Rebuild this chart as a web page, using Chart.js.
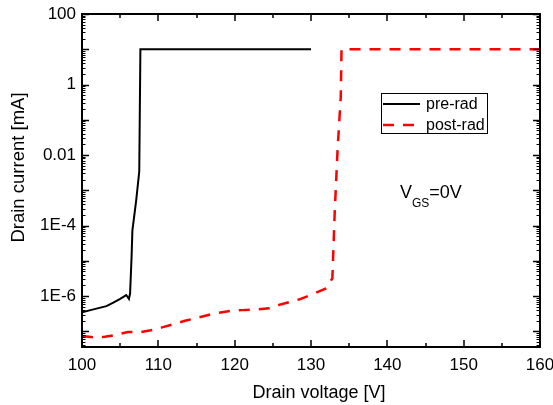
<!DOCTYPE html>
<html>
<head>
<meta charset="utf-8">
<script src="https://cdn.jsdelivr.net/npm/chart.js@4/dist/chart.umd.min.js"></script>
<style>
  html, body { margin: 0; padding: 0; background: #fff; }
  canvas { display: block; }
</style>
</head>
<body>
<canvas id="c" width="553" height="405"></canvas>
<script>
// ---- data (voltage in V, drain current in mA) ----
const seriesNames = ['pre-rad', 'post-rad'];
const voltagePre = [100, 101.5, 103.2, 104.1, 105, 105.8, 106.15, 106.3, 106.5, 106.6, 107.1, 107.5, 107.65, 130];
const currentPre = [3.5e-7, 4.2e-7, 5.2e-7, 6.5e-7, 8.3e-7, 1.07e-6, 8.3e-7, 1.2e-6, 1.4e-5, 7.2e-5, 5.2e-4, 3.4e-3, 10, 10];
const voltagePost = [100, 101.5, 103, 104.5, 106, 107.5, 109, 110.5, 112, 113.5, 115, 117, 119.5, 121, 123, 124.5, 126, 128.5, 130.5, 132, 132.8, 133.1, 133.5, 133.9, 134.0, 160];
const currentPost = [7.4e-8, 6.8e-8, 7.0e-8, 8.0e-8, 9.6e-8, 9.4e-8, 1.07e-7, 1.3e-7, 1.6e-7, 2.0e-7, 2.4e-7, 3.1e-7, 3.8e-7, 4.0e-7, 4.2e-7, 4.5e-7, 5.8e-7, 8.1e-7, 1.2e-6, 1.66e-6, 3.2e-6, 2.2e-4, 1.7e-2, 0.45, 10, 10];
const xTickValues = [100, 110, 120, 130, 140, 150, 160];
const yTickValues = [100, 1, 0.01, 1e-4, 1e-6];
const yTickLabels = ['100', '1', '0.01', '1E-4', '1E-6'];
const xTitle = 'Drain voltage [V]';
const yTitle = 'Drain current [mA]';

const FONT = '"Liberation Sans", Arial, Helvetica, sans-serif';

function toPoints(xs, ys) { return xs.map((v, i) => ({ x: v, y: ys[i] })); }

const decorPlugin = {
  id: 'decor',
  afterDatasetsDraw(chart) {
    const { ctx, chartArea: ca, scales: { x, y } } = chart;
    ctx.save();
    ctx.strokeStyle = '#000';
    ctx.lineWidth = 2;
    ctx.strokeRect(ca.left, ca.top, ca.right - ca.left, ca.bottom - ca.top);
    ctx.lineWidth = 1.5;
    const seg = (x1, y1, x2, y2) => { ctx.beginPath(); ctx.moveTo(x1, y1); ctx.lineTo(x2, y2); ctx.stroke(); };
    for (let v = x.min; v <= x.max + 1e-9; v += 5) {
      const px = Math.round(x.getPixelForValue(v));
      const len = (Math.round(v) % 10 === 0) ? 7 : 4;
      seg(px, ca.bottom, px, ca.bottom - len);
      seg(px, ca.top, px, ca.top + len);
    }
    for (let k = -9; k <= 3; k++) {
      for (let m = 1; m < 10; m++) {
        const v = m * Math.pow(10, k);
        if (v < y.min || v > y.max * 1.0001) continue;
        const py = Math.round(y.getPixelForValue(v)) + 0.5;
        const len = m === 1 ? 7 : 3.5;
        ctx.lineWidth = m === 1 ? 1.5 : 1;
        seg(ca.left, py, ca.left + len, py);
        seg(ca.right, py, ca.right - len, py);
      }
    }
    ctx.restore();
  },
  afterDraw(chart) {
    const { ctx, chartArea: ca } = chart;
    ctx.save();
    ctx.fillStyle = '#000';
    // axis titles
    ctx.font = '18px ' + FONT;
    ctx.textAlign = 'center';
    ctx.textBaseline = 'alphabetic';
    ctx.fillText(xTitle, (ca.left + ca.right) / 2 + 8, ca.bottom + 51);
    ctx.save();
    ctx.translate(ca.left - 63, (ca.top + ca.bottom) / 2 - 13);
    ctx.rotate(-Math.PI / 2);
    ctx.textBaseline = 'middle';
    ctx.font = '18.5px ' + FONT;
    ctx.fillText(yTitle, 0, 0);
    ctx.restore();

    // legend box
    const ds = chart.data.datasets;
    const bx = ca.left + 299, by = ca.top + 79, bw = 106, bh = 40;
    ctx.lineWidth = 1;
    ctx.strokeStyle = '#000';
    ctx.fillStyle = '#fff';
    ctx.fillRect(bx, by, bw, bh);
    ctx.strokeRect(bx + 0.5, by + 0.5, bw, bh);
    ctx.font = '16px ' + FONT;
    ctx.textAlign = 'left';
    ctx.textBaseline = 'middle';
    ds.forEach((d, i) => {
      const ly = by + 11 + i * 21;
      ctx.save();
      ctx.strokeStyle = d.borderColor;
      ctx.lineWidth = d.borderWidth;
      ctx.setLineDash(d.borderDash || []);
      ctx.beginPath();
      ctx.moveTo(bx + 2, ly);
      ctx.lineTo(bx + 39, ly);
      ctx.stroke();
      ctx.restore();
      ctx.fillStyle = '#000';
      ctx.fillText(d.label, bx + 45, ly + 1);
    });

    // annotation V_GS = 0V
    ctx.textBaseline = 'alphabetic';
    ctx.textAlign = 'left';
    ctx.font = '18px ' + FONT;
    let ax = ca.left + 318, ay = ca.top + 184;
    ctx.fillText('V', ax, ay);
    ax += ctx.measureText('V').width;
    ctx.font = '12px ' + FONT;
    ctx.fillText('GS', ax, ay + 9);
    ax += ctx.measureText('GS').width;
    ctx.font = '18px ' + FONT;
    ctx.fillText('=0V', ax, ay);
    ctx.restore();
  }
};

new Chart(document.getElementById('c'), {
  type: 'line',
  data: {
    datasets: [
      {
        label: seriesNames[0],
        data: toPoints(voltagePre, currentPre),
        borderColor: '#000000',
        borderWidth: 2,
        pointRadius: 0,
        tension: 0,
        fill: false
      },
      {
        label: seriesNames[1],
        data: toPoints(voltagePost, currentPost),
        borderColor: '#ff0000',
        borderWidth: 2.5,
        borderDash: [11, 9],
        pointRadius: 0,
        tension: 0,
        fill: false
      }
    ]
  },
  options: {
    responsive: false,
    animation: false,
    devicePixelRatio: 1,
    layout: { padding: { left: 0, right: 13, top: 14, bottom: 0 } },
    plugins: { legend: { display: false }, tooltip: { enabled: false }, title: { display: false } },
    scales: {
      x: {
        type: 'linear',
        min: 100,
        max: 160,
        afterBuildTicks: (s) => { s.ticks = xTickValues.map(v => ({ value: v })); },
        ticks: {
          autoSkip: false,
          maxRotation: 0,
          padding: 8,
          color: '#000',
          font: { family: FONT, size: 17 },
          callback: (v) => String(v)
        },
        grid: { display: false, drawTicks: false },
        border: { display: false },
        afterFit: (s) => { s.height = 58; s.paddingLeft = 0; s.paddingRight = 0; }
      },
      y: {
        type: 'logarithmic',
        min: 3.6e-8,
        max: 100,
        afterBuildTicks: (s) => { s.ticks = yTickValues.map(v => ({ value: v })); },
        ticks: {
          autoSkip: false,
          padding: 6,
          color: '#000',
          font: { family: FONT, size: 17 },
          callback: (v) => {
            const i = yTickValues.findIndex(t => Math.abs(Math.log10(t) - Math.log10(v)) < 1e-6);
            return i >= 0 ? yTickLabels[i] : '';
          }
        },
        grid: { display: false, drawTicks: false },
        border: { display: false },
        afterFit: (s) => { s.width = 82; s.paddingTop = 0; s.paddingBottom = 0; }
      }
    }
  },
  plugins: [decorPlugin]
});
</script>
</body>
</html>
